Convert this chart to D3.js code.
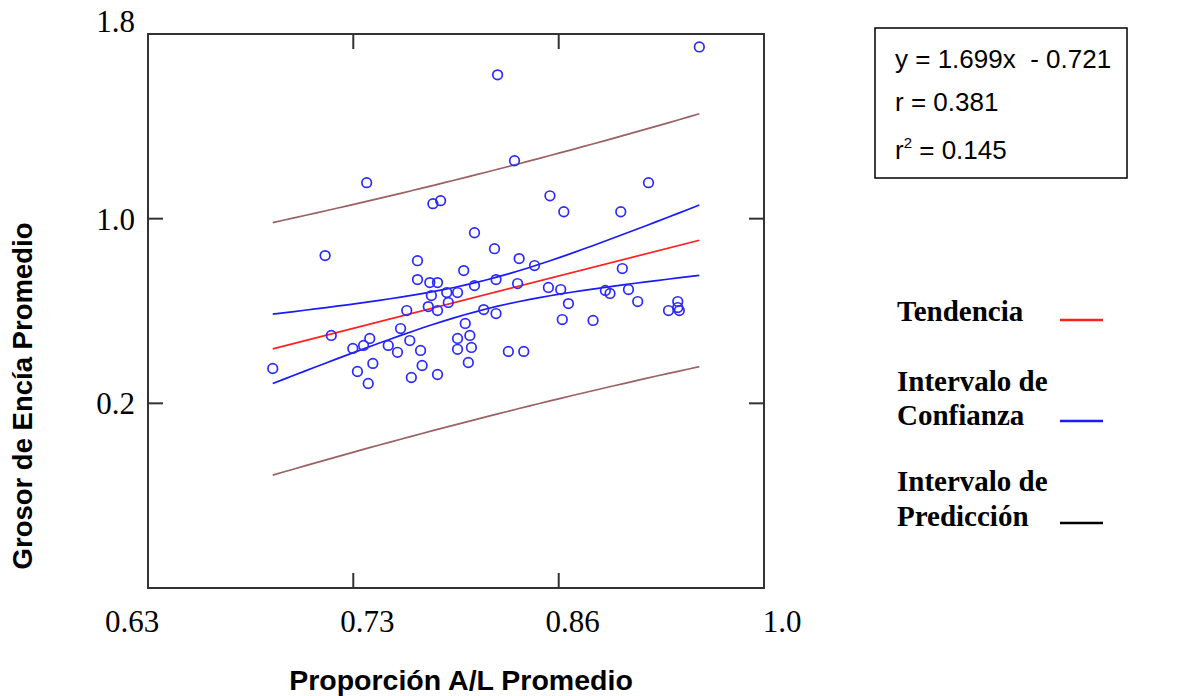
<!DOCTYPE html>
<html>
<head>
<meta charset="utf-8">
<script src="https://cdn.jsdelivr.net/npm/d3@7"></script>
<style>
  body { margin: 0; background: #fff; }
  svg { display: block; }
</style>
</head>
<body>
<svg id="chart"></svg>
<script>
// data
var xValues = [0.681, 0.715, 0.719, 0.733, 0.736, 0.740, 0.742, 0.744, 0.743, 0.746,
               0.756, 0.762, 0.764, 0.768, 0.770, 0.771, 0.775, 0.775, 0.777, 0.778,
               0.782, 0.783, 0.784, 0.785, 0.788, 0.788, 0.788, 0.790, 0.794, 0.795,
               0.801, 0.801, 0.801, 0.805, 0.806, 0.808, 0.809, 0.810, 0.812, 0.812,
               0.818, 0.825, 0.826, 0.826, 0.827, 0.834, 0.838, 0.840, 0.841, 0.844,
               0.851, 0.860, 0.861, 0.868, 0.869, 0.870, 0.873, 0.889, 0.897, 0.900,
               0.907, 0.908, 0.912, 0.918, 0.925, 0.938, 0.944, 0.944, 0.945, 0.958];
var yValues = [0.351, 0.840, 0.494, 0.438, 0.338, 0.451, 1.156, 0.481, 0.286, 0.373,
               0.451, 0.421, 0.524, 0.602, 0.472, 0.312, 0.818, 0.736, 0.429, 0.364,
               0.619, 0.723, 0.667, 1.065, 0.723, 0.602, 0.325, 1.078, 0.680, 0.637,
               0.680, 0.481, 0.434, 0.775, 0.546, 0.377, 0.494, 0.442, 0.939, 0.710,
               0.606, 0.870, 0.736, 0.589, 1.623, 0.425, 1.251, 0.719, 0.827, 0.425,
               0.797, 0.702, 1.099, 0.693, 0.563, 1.030, 0.632, 0.559, 0.689, 0.676,
               1.030, 0.784, 0.693, 0.641, 1.156, 0.602, 0.615, 0.641, 0.602, 1.744];

var slope = 1.699, intercept = -0.721;
var statLines = ["y = 1.699x  - 0.721", "r = 0.381", "r2 = 0.145"];

var xTicks = [0.6, 0.7333, 0.8667, 1.0];
var xTickLabels = ["0.63", "0.73", "0.86", "1.0"];
var yTicks = [1.8, 1.0, 0.2];
var yTickLabels = ["1.8", "1.0", "0.2"];

var legendNames = [["Tendencia"], ["Intervalo de", "Confianza"], ["Intervalo de", "Predicción"]];
var legendColors = ["#ff2020", "#1a1aff", "#000000"];

var width = 1193, height = 696;
var plotLeft = 148, plotRight = 764, plotTop = 34, plotBottom = 588;

var svg = d3.select("#chart").attr("width", width).attr("height", height);

var x = d3.scaleLinear().domain([0.6, 1.0]).range([plotLeft, plotRight]);
var y = d3.scaleLinear().domain([-0.6, 1.8]).range([plotBottom, plotTop]);

// bands from the fit
var n = xValues.length;
var xbar = d3.mean(xValues);
var sxx = d3.sum(xValues, function(v) { return (v - xbar) * (v - xbar); });
var sse = d3.sum(xValues, function(v, i) {
  var r = yValues[i] - (slope * v + intercept);
  return r * r;
});
var s = Math.sqrt(sse / (n - 2));
var t = 1.995;
var xmin = d3.min(xValues), xmax = d3.max(xValues);
var grid = d3.range(0, 41).map(function(i) { return xmin + (xmax - xmin) * i / 40; });
function band(sign, pred) {
  return grid.map(function(v) {
    var h = t * s * Math.sqrt((pred ? 1 : 0) + 1 / n + (v - xbar) * (v - xbar) / sxx);
    return [v, slope * v + intercept + sign * h];
  });
}

var line = d3.line().x(function(d) { return x(d[0]); }).y(function(d) { return y(d[1]); });

// frame
svg.append('rect')
  .attr('x', plotLeft).attr('y', plotTop)
  .attr('width', plotRight - plotLeft).attr('height', plotBottom - plotTop)
  .attr('fill', 'none').attr('stroke', '#333').attr('stroke-width', 2);

// inner ticks on all sides
var tickLen = 15;
xTicks.slice(1, 3).forEach(function(v) {
  svg.append('line').attr('x1', x(v)).attr('x2', x(v)).attr('y1', plotTop).attr('y2', plotTop + tickLen)
    .attr('stroke', '#333').attr('stroke-width', 2);
  svg.append('line').attr('x1', x(v)).attr('x2', x(v)).attr('y1', plotBottom).attr('y2', plotBottom - tickLen)
    .attr('stroke', '#333').attr('stroke-width', 2);
});
yTicks.slice(1).forEach(function(v) {
  svg.append('line').attr('x1', plotLeft).attr('x2', plotLeft + tickLen).attr('y1', y(v)).attr('y2', y(v))
    .attr('stroke', '#333').attr('stroke-width', 2);
  svg.append('line').attr('x1', plotRight).attr('x2', plotRight - tickLen).attr('y1', y(v)).attr('y2', y(v))
    .attr('stroke', '#333').attr('stroke-width', 2);
});

// tick labels
var xdx = [-16, 14, 14, 18];
xTicks.forEach(function(v, i) {
  svg.append('text')
    .attr('x', x(v) + xdx[i]).attr('y', 632)
    .attr('text-anchor', 'middle')
    .style('font-family', '"Liberation Serif", "Times New Roman", serif')
    .style('font-size', '31px')
    .text(xTickLabels[i]);
});
yTicks.forEach(function(v, i) {
  svg.append('text')
    .attr('x', 135).attr('y', i == 0 ? 32 : y(v) + 11)
    .attr('text-anchor', 'end')
    .style('font-family', '"Liberation Serif", "Times New Roman", serif')
    .style('font-size', '31px')
    .text(yTickLabels[i]);
});

// axis titles
svg.append('text')
  .attr('x', 461).attr('y', 690)
  .attr('text-anchor', 'middle')
  .style('font-family', '"Liberation Sans", Arial, sans-serif')
  .style('font-weight', 'bold').style('font-size', '28.5px')
  .text('Proporción A/L Promedio');
svg.append('text')
  .attr('transform', 'translate(32,396) rotate(-90)')
  .attr('text-anchor', 'middle')
  .style('font-family', '"Liberation Sans", Arial, sans-serif')
  .style('font-weight', 'bold').style('font-size', '27.5px')
  .text('Grosor de Encía Promedio');

// bands and trend
var bandColor = '#9a6262';
[band(1, true), band(-1, true)].forEach(function(b) {
  svg.append('path').attr('d', line(b)).attr('fill', 'none').attr('stroke', bandColor).attr('stroke-width', 1.7);
});
[band(1, false), band(-1, false)].forEach(function(b) {
  svg.append('path').attr('d', line(b)).attr('fill', 'none').attr('stroke', '#1a1aff').attr('stroke-width', 1.7);
});
svg.append('path')
  .attr('d', line([[xmin, slope * xmin + intercept], [xmax, slope * xmax + intercept]]))
  .attr('fill', 'none').attr('stroke', '#ff2020').attr('stroke-width', 1.7);

// points
svg.selectAll('circle.pt')
  .data(xValues)
  .enter().append('circle')
  .attr('class', 'pt')
  .attr('cx', function(d) { return x(d); })
  .attr('cy', function(d, i) { return y(yValues[i]); })
  .attr('r', 4.8)
  .attr('fill', 'none')
  .attr('stroke', '#2a2aff')
  .attr('stroke-width', 1.7);

// stats box
svg.append('rect')
  .attr('x', 875).attr('y', 28).attr('width', 252).attr('height', 150)
  .attr('fill', 'none').attr('stroke', '#000').attr('stroke-width', 1.5);
var statY = [68, 111, 159];
statLines.forEach(function(txt, i) {
  var tx = svg.append('text')
    .attr('x', 895).attr('y', statY[i])
    .style('font-family', '"Liberation Sans", Arial, sans-serif')
    .style('font-size', '26px')
    .style('white-space', 'pre');
  if (i == 2) {
    tx.append('tspan').text('r');
    tx.append('tspan').attr('dy', -11).style('font-size', '15px').text('2');
    tx.append('tspan').attr('dy', 11).text(' = 0.145');
  } else {
    tx.text(txt);
  }
});

// legend
var legY = [[321], [391, 425], [491, 526]];
var legLineY = [320, 421, 523];
legendNames.forEach(function(lines, i) {
  lines.forEach(function(l, j) {
    svg.append('text')
      .attr('x', 897).attr('y', legY[i][j])
      .style('font-family', '"Liberation Serif", "Times New Roman", serif')
      .style('font-weight', 'bold').style('font-size', '29px')
      .text(l);
  });
  svg.append('line')
    .attr('x1', 1060).attr('x2', 1103)
    .attr('y1', legLineY[i]).attr('y2', legLineY[i])
    .attr('stroke', legendColors[i]).attr('stroke-width', 2.6);
});
</script>
</body>
</html>
